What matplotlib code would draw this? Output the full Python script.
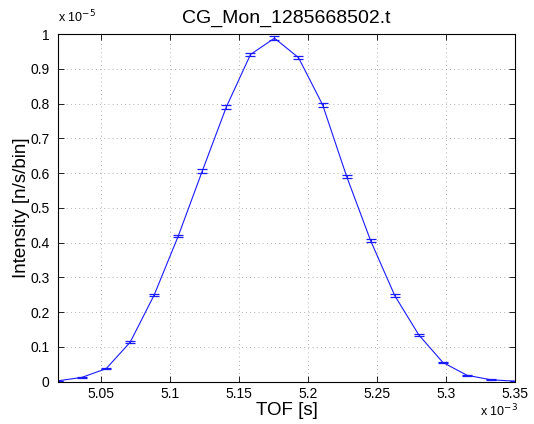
import matplotlib
matplotlib.use("Agg")
import matplotlib.pyplot as plt
from matplotlib.ticker import FuncFormatter, MultipleLocator

plt.rcParams['font.family'] = ['Liberation Sans', 'DejaVu Sans']

# TOF bin centres (s)
tof = [5.0188e-3, 5.0362e-3, 5.0537e-3, 5.0711e-3, 5.0885e-3, 5.1060e-3, 5.1234e-3,
       5.1408e-3, 5.1583e-3, 5.1757e-3, 5.1931e-3, 5.2106e-3, 5.2280e-3, 5.2454e-3,
       5.2629e-3, 5.2803e-3, 5.2977e-3, 5.3152e-3, 5.3326e-3, 5.3500e-3]
# Intensity (n/s/bin)
intensity = [0.002e-5, 0.012e-5, 0.037e-5, 0.113e-5, 0.249e-5, 0.419e-5, 0.606e-5,
             0.790e-5, 0.941e-5, 0.988e-5, 0.932e-5, 0.796e-5, 0.590e-5, 0.405e-5,
             0.247e-5, 0.134e-5, 0.055e-5, 0.018e-5, 0.005e-5, 0.001e-5]
# Error bars
err = [0.0005e-5, 0.001e-5, 0.002e-5, 0.003e-5, 0.004e-5, 0.004e-5, 0.005e-5,
       0.005e-5, 0.005e-5, 0.005e-5, 0.005e-5, 0.005e-5, 0.005e-5, 0.004e-5,
       0.004e-5, 0.003e-5, 0.002e-5, 0.001e-5, 0.0008e-5, 0.0004e-5]

title = "CG_Mon_1285668502.t"
xlabel = "TOF [s]"
ylabel = "Intensity [n/s/bin]"

fig = plt.figure(figsize=(5.34, 4.24), dpi=100)
ax = fig.add_axes([0.1086, 0.1002, 0.8558, 0.8196])

blue = (0.1, 0.1, 1.0)
ax.errorbar(tof, intensity, yerr=err, color=blue, ecolor=blue, lw=0.8, elinewidth=0.8,
            capsize=3.6, capthick=0.9)

ax.set_xlim(tof[0], tof[-1])
ax.set_ylim(0, 1e-5)
ax.xaxis.set_major_locator(MultipleLocator(0.05e-3))
ax.yaxis.set_major_locator(MultipleLocator(0.1e-5))

def fmt(scale):
    def f(v, pos):
        s = "%.2f" % (v / scale)
        s = s.rstrip('0').rstrip('.')
        return s
    return FuncFormatter(f)

ax.xaxis.set_major_formatter(fmt(1e-3))
ax.yaxis.set_major_formatter(fmt(1e-5))

ax.tick_params(direction='in', top=True, right=True, labelsize=10, length=4, width=0.6)
ax.tick_params(axis='y', pad=6)
ax.tick_params(axis='x', pad=4)
ax.grid(True, linestyle=(0, (1, 4)), color='#999999', linewidth=0.6)
for s in ax.spines.values():
    s.set_linewidth(0.8)

ax.set_title(title, fontsize=14, pad=8)
ax.set_xlabel(xlabel, fontsize=13.5)
ax.set_ylabel(ylabel, fontsize=13.5)
ax.xaxis.set_label_coords(0.5, -0.058)
ax.yaxis.set_label_coords(-0.062, 0.5)

fig.text(0.108, 0.940, r"x 10$^{-5}$", fontsize=9, ha='left', va='bottom')
fig.text(0.899, 0.010, r"x 10$^{-3}$", fontsize=9, ha='left', va='bottom')

fig.savefig("out.png", dpi=100)
